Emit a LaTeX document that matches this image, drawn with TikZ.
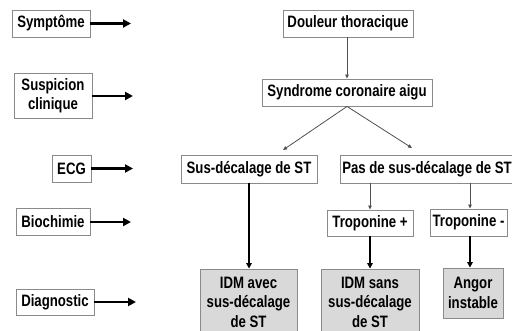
\documentclass[tikz,border=0pt]{standalone}
\usepackage{fontspec}
\setmainfont{Liberation Sans}[FakeStretch=0.8]
\usetikzlibrary{arrows.meta}
\definecolor{boxline}{HTML}{8A8A8A}
\definecolor{diagfill}{HTML}{D9D9D9}
\definecolor{thinline}{HTML}{505050}
\tikzset{
  box/.style={draw=boxline, line width=0.9pt, fill=white, inner sep=0pt,
    align=center, font=\fontsize{16.5}{19.5}\selectfont\bfseries},
  result/.style={box, fill=diagfill},
  levelarrow/.style={line width=2.8pt, -{Triangle[length=8pt,width=8pt]}},
  thinarrow/.style={thinline, line width=0.8pt, -{Triangle[length=4pt,width=3.5pt]}},
  thickarrow/.style={line width=1.8pt, -{Triangle[length=5.5pt,width=5.5pt]}}
}
\begin{document}
\begin{tikzpicture}[x=1pt,y=-1pt]
\useasboundingbox (0,0) rectangle (512,331);
\clip (0,0) rectangle (512,331);

% level labels on the left
\node[box, minimum width=78pt, minimum height=27pt] (sym) at (51,23.5) {Symptôme};
\node[box, minimum width=78pt, minimum height=45pt] (susp) at (53,95.5) {Suspicion\\clinique};
\node[box, minimum width=39pt, minimum height=27pt] (ecg) at (71.5,168.5) {ECG};
\node[box, minimum width=74pt, minimum height=27pt] (bio) at (53,221.5) {Biochimie};
\node[box, minimum width=78pt, minimum height=26pt] (diag) at (55,302) {Diagnostic};

\coordinate (symE) at (131,23.5);
\coordinate (suspE) at (133,96);
\coordinate (ecgE) at (133,168.5);
\coordinate (bioE) at (131,222);
\coordinate (diagE) at (136,302);

\draw[levelarrow] (sym) -- (symE);
\draw[levelarrow] (susp.east |- suspE) -- (suspE);
\draw[levelarrow] (ecg) -- (ecgE);
\draw[levelarrow] (bio.east |- bioE) -- (bioE);
\draw[levelarrow] (diag) -- (diagE);

% decision tree
\node[box, minimum width=130pt, minimum height=27pt] (dt) at (348,23.5) {Douleur thoracique};
\node[box, minimum width=170pt, minimum height=27pt] (sca) at (347,92.5) {Syndrome coronaire aigu};
\node[box, minimum width=136pt, minimum height=28pt] (sus) at (249,169) {Sus-décalage de ST};
\node[box, minimum width=174pt, minimum height=28pt] (pas) at (427,169) {Pas de sus-décalage de ST};
\node[box, minimum width=86pt, minimum height=26pt] (tp) at (370,223) {Troponine +};
\node[box, minimum width=77pt, minimum height=27pt] (tm) at (468.5,222.5) {Troponine -};
\node[result, minimum width=97pt, minimum height=66pt] (idma) at (248.5,302) {IDM avec\\sus-décalage\\de ST};
\node[result, minimum width=98pt, minimum height=66pt] (idms) at (370,302) {IDM sans\\sus-décalage\\de ST};
\node[result, minimum width=60pt, minimum height=50pt] (ang) at (473,293) {Angor\\instable};

\coordinate (toSus) at (283,150);
\coordinate (toPas) at (412,148);
\coordinate (pasL) at (370,183);
\coordinate (pasR) at (470,183);

\draw[thinarrow] (dt.south -| sca.north) -- (sca.north);
\draw[thinarrow] (sca.south) -- (toSus);
\draw[thinarrow] (sca.south) -- (toPas);
\draw[thinarrow] (pasL) -- (tp.north);
\draw[thinarrow] (pasR) -- (pasR |- tm.north);
\draw[thickarrow] (sus.south) -- (sus.south |- idma.north);
\draw[thickarrow] (tp.south) -- (idms.north);
\draw[thickarrow] (pasR |- tm.south) -- (pasR |- ang.north);
\end{tikzpicture}
\end{document}
